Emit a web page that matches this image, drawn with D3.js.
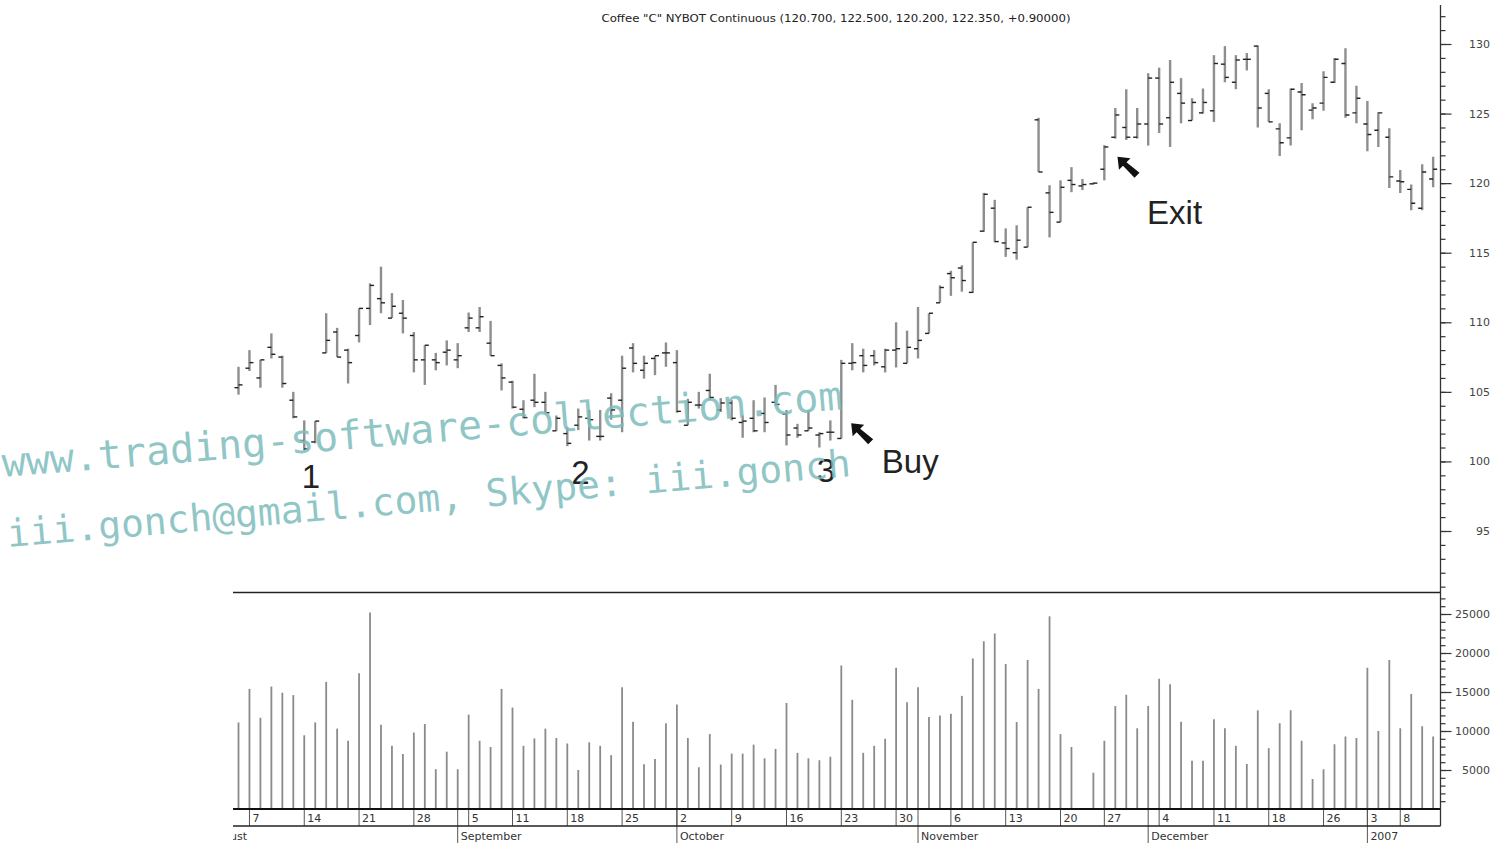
<!DOCTYPE html>
<html>
<head>
<meta charset="utf-8">
<title>Coffee "C" NYBOT Continuous</title>
<script src="https://d3js.org/d3.v7.min.js"></script>
<style>
body { margin: 0; background: #fff; }
</style>
</head>
<body>
<div id="chart"></div>
<script>

// trading calendar: sessions from Jul 31 2006 (Aug 4 is the first bar shown)
var calendarStart = "2006-07-31",
    calendarEnd = "2007-01-11",
    holidays = ["2006-09-04", "2006-11-23", "2006-12-25", "2007-01-01", "2007-01-02"],
    firstBar = "2006-08-04";

// daily bars, Aug 4 2006 .. Jan 11 2007
var opens = [105.3,106.7,106.0,108.2,107.5,104.4,101.5,101.4,107.8,109.3,
  108.0,109.05,111.0,111.7,110.3,110.65,109.05,107.3,107.3,107.85,
  107.3,109.6,109.6,108.5,106.9,105.7,103.75,104.4,104.25,102.2,
  102.0,102.6,103.1,101.8,104.55,104.4,108.15,106.55,107.4,107.8,
  107.1,102.6,104.05,105.1,103.7,104.2,102.8,103.1,103.45,104.25,
  103.4,102.4,102.2,101.9,102.1,101.65,107.05,107.6,107.6,106.8,
  108.0,107.05,108.1,109.2,111.4,113.5,113.9,112.15,116.55,118.2,
  115.7,115.0,115.4,124.55,119.3,117.2,120.2,119.8,119.95,121.0,
  123.3,124.0,123.3,124.25,127.55,124.7,126.45,124.5,125.05,125.2,
  128.55,127.25,128.9,129.85,126.45,123.9,123.25,126.55,125.25,125.75,
  127.25,128.6,125.05,124.25,123.8,123.3,120.15,119.55,118.2,120.3];

var highs = [106.8,108.0,107.3,109.2,107.6,105.0,102.95,102.9,110.65,109.6,
  108.1,111.0,112.8,114.0,112.1,111.6,109.3,108.35,107.8,108.7,
  108.5,110.7,111.1,110.1,107.05,105.8,104.4,106.3,105.0,103.3,
  102.45,103.8,103.7,103.7,104.9,107.6,108.5,107.6,107.6,108.55,
  108.0,104.5,105.0,106.3,104.55,104.4,103.3,104.4,104.6,105.5,
  103.7,102.7,103.7,102.1,102.95,107.3,108.5,108.1,108.0,108.1,
  110.0,109.4,111.1,110.65,112.65,113.7,114.1,115.75,119.3,118.8,
  116.75,116.97,118.27,124.7,119.85,120.2,121.15,120.3,120.05,122.73,
  125.4,126.75,125.4,127.9,128.3,128.85,127.55,126.1,126.8,129.2,
  129.85,129.2,129.35,129.9,126.75,124.3,126.8,127.2,125.75,128.05,
  129.0,129.7,127.0,125.9,125.1,123.95,120.95,119.9,121.35,121.9];

var lows = [104.8,106.5,105.3,107.4,105.3,103.1,100.8,101.3,107.8,107.5,
  105.6,108.55,109.8,110.65,110.3,109.2,106.4,105.5,106.55,106.9,
  106.7,109.3,109.3,107.6,105.1,103.8,103.1,103.9,103.5,102.2,
  101.1,102.25,101.5,101.5,103.0,102.1,106.4,105.95,106.2,106.8,
  103.5,102.6,103.8,104.4,103.55,102.95,101.7,102.1,102.1,104.0,
  101.15,101.7,102.2,101.0,101.5,101.65,106.55,106.4,106.9,106.4,
  106.75,107.05,107.4,109.2,111.4,111.9,112.2,112.1,116.5,115.75,
  114.7,114.5,115.4,120.8,116.1,117.2,119.35,119.5,119.9,120.2,
  123.2,123.1,123.2,122.7,123.6,122.6,124.3,124.5,125.0,124.4,
  127.25,126.75,128.1,124.0,124.4,121.95,122.7,123.8,124.6,125.2,
  127.2,124.7,124.3,122.3,122.6,119.65,119.3,118.05,118.05,119.7];

var closes = [105.5,107.1,107.3,107.7,105.6,103.2,100.9,102.9,108.7,107.5,
  107.1,111.0,112.65,111.4,111.15,110.3,107.3,108.35,107.1,108.0,
  107.6,110.3,110.4,107.6,106.0,103.9,103.15,104.25,103.5,103.1,
  101.3,103.2,103.0,101.8,103.7,106.7,107.05,107.05,107.6,107.8,
  103.6,104.25,104.05,104.6,104.2,103.1,102.9,102.2,102.8,104.1,
  101.9,101.9,102.4,102.0,102.1,107.05,107.1,106.9,107.1,108.0,
  108.1,108.2,108.7,110.65,112.5,113.2,113.0,115.75,119.2,115.8,
  115.3,115.9,118.27,120.8,117.9,119.7,119.9,119.9,120.0,122.6,
  124.9,123.3,124.25,127.55,124.25,127.25,125.75,125.8,125.8,128.6,
  127.6,128.85,128.9,125.4,124.4,122.9,126.75,126.35,125.4,127.6,
  128.9,124.9,126.1,123.5,125.05,120.45,120.1,118.55,120.8,121.0];

var volumes = [11100,15400,11700,15700,14900,14600,9450,11100,16300,10300,
  8750,17400,25200,10800,8100,7050,9800,10900,5100,7350,
  5100,12100,8750,7950,15400,13000,8100,9050,10300,9100,
  8400,5000,8550,8100,6900,15600,11200,5750,6400,11000,
  13400,9100,5350,9600,5700,7100,7100,8250,6500,7700,
  13600,7200,6500,6250,6700,18400,14000,7200,8100,9000,
  18100,13700,15600,11800,12000,12200,14500,19300,21500,22500,
  18600,11150,19100,15400,24700,9600,7950,0,4650,8750,
  13200,14650,10350,13200,16700,16000,11200,6200,6200,11500,
  10350,8100,5770,12650,7800,11000,12650,8750,3850,5100,
  8300,9300,9100,18100,10000,19100,10350,14750,10600,9300];

// axis labels
var priceTicks = [95, 100, 105, 110, 115, 120, 125, 130];
var volumeTicks = [5000, 10000, 15000, 20000, 25000];
var weekTicks = ["2006-07-31","2006-08-07","2006-08-14","2006-08-21","2006-08-28",
  "2006-09-05","2006-09-11","2006-09-18","2006-09-25","2006-10-02","2006-10-09",
  "2006-10-16","2006-10-23","2006-10-30","2006-11-06","2006-11-13","2006-11-20",
  "2006-11-27","2006-12-04","2006-12-11","2006-12-18","2006-12-26","2007-01-03","2007-01-08"];
var weekLabels = ["31","7","14","21","28","5","11","18","25","2","9","16","23","30",
  "6","13","20","27","4","11","18","26","3","8"];
var monthTicks = ["2006-08-01","2006-09-01","2006-10-02","2006-11-01","2006-12-01","2007-01-03"];
var monthLabels = ["August","September","October","November","December","2007"];

var title = "Coffee \"C\" NYBOT Continuous (120.700, 122.500, 120.200, 122.350, +0.90000)";

// annotations, placed in bar-index / price space
var marks = [
  {text: "1", bar: 6.6, price: 98.1, anchor: "middle"},
  {text: "2", bar: 31.2, price: 98.35, anchor: "middle"},
  {text: "3", bar: 53.6, price: 98.5, anchor: "middle"},
  {text: "Buy", bar: 58.7, price: 99.15, anchor: "start"},
  {text: "Exit", bar: 82.9, price: 117.05, anchor: "start"}
];
var arrows = [
  {bar: 55.9, price: 102.75},
  {bar: 80.2, price: 121.9}
];

var watermark = ["www.trading-software-collection.com", "iii.gonch@gmail.com, Skype: iii.gonch"];

// ---------------------------------------------------------------

var width = 1495, height = 843;
var left = 233, right = 1440.5;
var sans = "DejaVu Sans, Verdana, sans-serif";

var parse = d3.timeParse("%Y-%m-%d"), fmt = d3.timeFormat("%Y-%m-%d");
var hol = new Set(holidays);
var sessions = d3.timeDay.range(parse(calendarStart), d3.timeDay.offset(parse(calendarEnd), 1))
  .filter(function(d){ return d.getDay() != 0 && d.getDay() != 6 && !hol.has(fmt(d)); })
  .map(fmt);
var offset = sessions.indexOf(firstBar);

var data = opens.map(function(o, i){
  return {date: sessions[i + offset], open: o, high: highs[i], low: lows[i], close: closes[i], volume: volumes[i]};
});

// bar spacing ~10.96px, Aug 4 sits at x=238.5
var step = 10.96;
var x = d3.scalePoint()
  .domain(sessions)
  .range([238.5 - offset * step, 238.5 + (sessions.length - 1 - offset) * step]);
var xi = function(i){ return x(sessions[0]) + (i + offset) * step; };

var y = d3.scaleLinear().domain([95, 130]).range([531, 44]);
var yv = d3.scaleLinear().domain([0, 25000]).range([809, 614]);

var svg = d3.select("#chart").append("svg")
  .attr("width", width)
  .attr("height", height);

svg.append("defs").append("clipPath").attr("id", "clip")
  .append("rect").attr("x", left).attr("y", 0).attr("width", right - left).attr("height", height);

var plot = svg.append("g").attr("clip-path", "url(#clip)");

// price bars
var bar = plot.append("g").selectAll("g")
  .data(data)
  .enter().append("g");
bar.append("line")
  .attr("x1", function(d){ return x(d.date); })
  .attr("x2", function(d){ return x(d.date); })
  .attr("y1", function(d){ return y(d.high); })
  .attr("y2", function(d){ return Math.max(y(d.low), y(d.high) + 1.5); })
  .attr("stroke", "#8e8e8e")
  .attr("stroke-width", 2.4);
bar.append("line")
  .attr("x1", function(d){ return x(d.date) - 4; })
  .attr("x2", function(d){ return x(d.date); })
  .attr("y1", function(d){ return y(d.open); })
  .attr("y2", function(d){ return y(d.open); })
  .attr("stroke", "#222")
  .attr("stroke-width", 1.4);
bar.append("line")
  .attr("x1", function(d){ return x(d.date); })
  .attr("x2", function(d){ return x(d.date) + 4; })
  .attr("y1", function(d){ return y(d.close); })
  .attr("y2", function(d){ return y(d.close); })
  .attr("stroke", "#222")
  .attr("stroke-width", 1.4);

// volume bars
plot.append("g").selectAll("line")
  .data(data.filter(function(d){ return d.volume > 0; }))
  .enter().append("line")
    .attr("x1", function(d){ return x(d.date); })
    .attr("x2", function(d){ return x(d.date); })
    .attr("y1", yv(0))
    .attr("y2", function(d){ return yv(d.volume); })
    .attr("stroke", "#8a8a8a")
    .attr("stroke-width", 1.8);

// panel separators
svg.append("line").attr("x1", left).attr("x2", right).attr("y1", 592.5).attr("y2", 592.5)
  .attr("stroke", "#222").attr("stroke-width", 1.4);
svg.append("line").attr("x1", left).attr("x2", right).attr("y1", 809).attr("y2", 809)
  .attr("stroke", "#111").attr("stroke-width", 2);
svg.append("line").attr("x1", left).attr("x2", right).attr("y1", 826).attr("y2", 826)
  .attr("stroke", "#222").attr("stroke-width", 1.4);

// date axis
var dates = plot.append("g").style("font-family", sans);
dates.selectAll("line.week")
  .data(weekTicks)
  .enter().append("line")
    .attr("x1", function(d){ return x(d); })
    .attr("x2", function(d){ return x(d); })
    .attr("y1", 809).attr("y2", 826)
    .attr("stroke", "#555").attr("stroke-width", 1);
dates.selectAll("text.week")
  .data(weekTicks)
  .enter().append("text")
    .attr("x", function(d){ return x(d) + 3; })
    .attr("y", 822)
    .attr("font-size", 11)
    .attr("fill", "#333")
    .text(function(d, i){ return weekLabels[i]; });
dates.selectAll("line.month")
  .data(monthTicks)
  .enter().append("line")
    .attr("x1", function(d){ return x(d); })
    .attr("x2", function(d){ return x(d); })
    .attr("y1", 809).attr("y2", height)
    .attr("stroke", "#555").attr("stroke-width", 1);
dates.selectAll("text.month")
  .data(monthTicks)
  .enter().append("text")
    .attr("x", function(d){ return x(d) + 3; })
    .attr("y", 839.5)
    .attr("font-size", 11)
    .attr("fill", "#333")
    .text(function(d, i){ return monthLabels[i]; });

// right axes
var axisG = svg.append("g").attr("transform", "translate(" + right + ",0)");
axisG.append("line").attr("x1", 0).attr("x2", 0).attr("y1", 5).attr("y2", 826)
  .attr("stroke", "#333").attr("stroke-width", 1.3);

function styleAxis(g, labelled) {
  g.select(".domain").remove();
  g.selectAll(".tick line").attr("stroke", "#333").attr("stroke-width", 1.2);
  if (labelled) {
    g.selectAll(".tick text")
      .attr("x", 49.5)
      .attr("text-anchor", "end")
      .attr("font-size", 11)
      .attr("font-family", sans)
      .attr("fill", "#444");
  }
}

axisG.append("g")
  .call(d3.axisRight(y).tickValues(d3.range(91, 133)).tickSize(5).tickFormat(""))
  .call(styleAxis, false);
axisG.append("g")
  .call(d3.axisRight(y).tickValues(priceTicks).tickSize(11).tickFormat(d3.format("d")))
  .call(styleAxis, true);
axisG.append("g")
  .call(d3.axisRight(yv).tickValues(d3.range(1000, 28000, 1000)).tickSize(5).tickFormat(""))
  .call(styleAxis, false);
axisG.append("g")
  .call(d3.axisRight(yv).tickValues(volumeTicks).tickSize(11).tickFormat(d3.format("d")))
  .call(styleAxis, true);

// title
svg.append("text")
  .attr("x", 836)
  .attr("y", 22)
  .attr("text-anchor", "middle")
  .attr("font-family", sans)
  .attr("font-size", 10)
  .attr("fill", "#222")
  .attr("textLength", 469)
  .attr("lengthAdjust", "spacingAndGlyphs")
  .text(title);

// annotations
svg.append("g").selectAll("text")
  .data(marks)
  .enter().append("text")
    .attr("x", function(d){ return xi(d.bar); })
    .attr("y", function(d){ return y(d.price); })
    .attr("text-anchor", function(d){ return d.anchor; })
    .attr("font-family", "Liberation Sans, Arial, sans-serif")
    .attr("font-size", 33)
    .attr("fill", "#222")
    .text(function(d){ return d.text; });

svg.append("g").selectAll("path")
  .data(arrows)
  .enter().append("path")
    .attr("transform", function(d){ return "translate(" + xi(d.bar) + "," + y(d.price) + ")"; })
    .attr("d", "M0,0 L13,1.5 L9,5.5 L22,16 L17,21 L5.5,9 L1.5,13 Z")
    .attr("fill", "#111");

// watermark
svg.append("g").selectAll("text")
  .data(watermark)
  .enter().append("text")
    .attr("transform", function(d, i){ return i == 0 ? "translate(3,477) rotate(-4.6)" : "translate(8,547) rotate(-4.8)"; })
    .attr("font-family", "DejaVu Sans Mono, monospace")
    .attr("font-size", function(d, i){ return i == 0 ? 40 : 38; })
    .attr("fill", "#7dbcbc")
    .attr("fill-opacity", 0.85)
    .text(function(d){ return d; });

</script>
</body>
</html>
